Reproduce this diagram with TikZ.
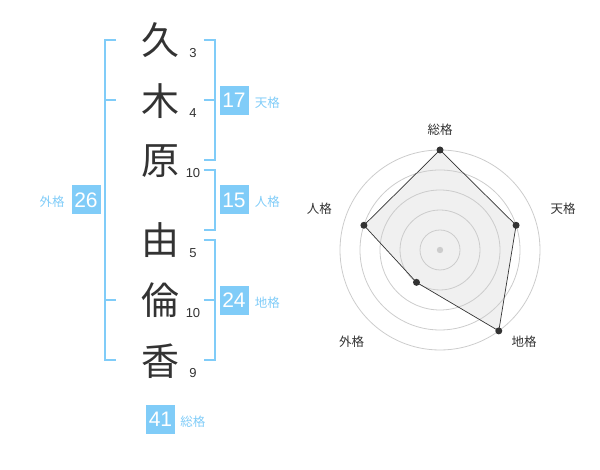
\documentclass[tikz,border=0pt]{standalone}
\usepackage{fontspec}
\setmainfont{Liberation Sans}
\newfontfamily\cjk{Noto Sans CJK JP}
\usetikzlibrary{positioning}
\definecolor{sky}{RGB}{128,204,248}
\definecolor{ink}{RGB}{51,51,51}
\definecolor{ringgray}{RGB}{204,204,204}
\definecolor{area}{RGB}{240,240,240}

\begin{document}
\begin{tikzpicture}[%
        x=1pt, y=1pt,
        kanji/.style={text=ink, font=\cjk\fontsize{38}{38}\selectfont, inner sep=0},
        stroke/.style={text=ink, font=\fontsize{13}{13}\selectfont, inner sep=0},
        kaku/.style={fill=sky, text=white, minimum width=29pt, minimum height=29pt, inner sep=0, font=\fontsize{21}{21}\selectfont},
        kakulabel/.style={text=sky, font=\cjk\fontsize{12.5}{12.5}\selectfont, inner sep=0, yshift=-2pt},
        bracket/.style={draw=sky, line width=2pt},
        ring/.style={draw=ringgray, line width=0.8pt},
        axislabel/.style={text=ink, font=\cjk\fontsize{12.5}{12.5}\selectfont, inner sep=0},
        dot/.style={circle, fill=ink, inner sep=0, minimum size=7pt}
        ]
        \useasboundingbox (0,0) rectangle (600,470);
        % name and strokes
        \node[kanji] (k1) at (160,430) {久};
        \node[kanji] (k2) at (160,369) {木};
        \node[kanji] (k3) at (160,309) {原};
        \node[kanji] (k4) at (160,230) {由};
        \node[kanji] (k5) at (160,170) {倫};
        \node[kanji] (k6) at (160,109) {香};
        \node[stroke] (n1) at (193,417) {3};
        \node[stroke] (n2) at (193,357) {4};
        \node[stroke] (n3) at (193,297) {10};
        \node[stroke] (n4) at (193,217) {5};
        \node[stroke] (n5) at (193,157) {10};
        \node[stroke] (n6) at (193,97) {9};
        % brackets
        \draw[bracket] (116,430) -- (105,430) -- (105,110) -- (116,110);
        \draw[bracket] (105,370) -- (116,370);
        \draw[bracket] (105,170) -- (116,170);
        \draw[bracket] (203.5,430) -- (214.5,430) -- (214.5,310) -- (203.5,310);
        \draw[bracket] (203.5,370) -- (214.5,370);
        \draw[bracket] (203.5,300) -- (214.5,300) -- (214.5,240) -- (203.5,240);
        \draw[bracket] (203.5,230) -- (214.5,230) -- (214.5,110) -- (203.5,110);
        \draw[bracket] (203.5,170) -- (214.5,170);
        % scores
        \node[kaku] (ten) at (234,369.5) {17};
        \node[kakulabel, right=6pt of ten] (tenl) {天格};
        \node[kaku] (jin) at (234,270) {15};
        \node[kakulabel, right=6pt of jin] (jinl) {人格};
        \node[kaku] (chi) at (234,169.5) {24};
        \node[kakulabel, right=6pt of chi] (chil) {地格};
        \node[kaku] (gai) at (86,270) {26};
        \node[kakulabel, left=6.5pt of gai] (gail) {外格};
        \node[kaku] (sou) at (160.5,50.5) {41};
        \node[kakulabel, right=5pt of sou] (soul) {総格};
        % radar chart
        \begin{scope}[shift={(440,220)}]
            \coordinate (c) at (0,0);
            \coordinate (vsou) at (90:100);
            \coordinate (vten) at (18:80);
            \coordinate (vchi) at (-54:100);
            \coordinate (vgai) at (-126:40);
            \coordinate (vjin) at (162:80);
            \fill[area] (vsou) -- (vten) -- (vchi) -- (vgai) -- (vjin) -- cycle;
            \draw[ring] (c) circle (20);
            \draw[ring] (c) circle (40);
            \draw[ring] (c) circle (60);
            \draw[ring] (c) circle (80);
            \draw[ring] (c) circle (100);
            \fill[ringgray] (c) circle (3.2);
            \draw[ink, line width=0.7pt] (vsou) -- (vten) -- (vchi) -- (vgai) -- (vjin) -- cycle;
            \node[dot] (dsou) at (vsou) {};
            \node[dot] (dten) at (vten) {};
            \node[dot] (dchi) at (vchi) {};
            \node[dot] (dgai) at (vgai) {};
            \node[dot] (djin) at (vjin) {};
            \node[axislabel] (lsou) at (0,120) {総格};
            \node[axislabel] (lten) at (123,41.3) {天格};
            \node[axislabel] (lchi) at (84,-91.7) {地格};
            \node[axislabel] (lgai) at (-88.3,-91.7) {外格};
            \node[axislabel] (ljin) at (-120.7,41.3) {人格};
        \end{scope}
    \end{tikzpicture}
\end{document}
